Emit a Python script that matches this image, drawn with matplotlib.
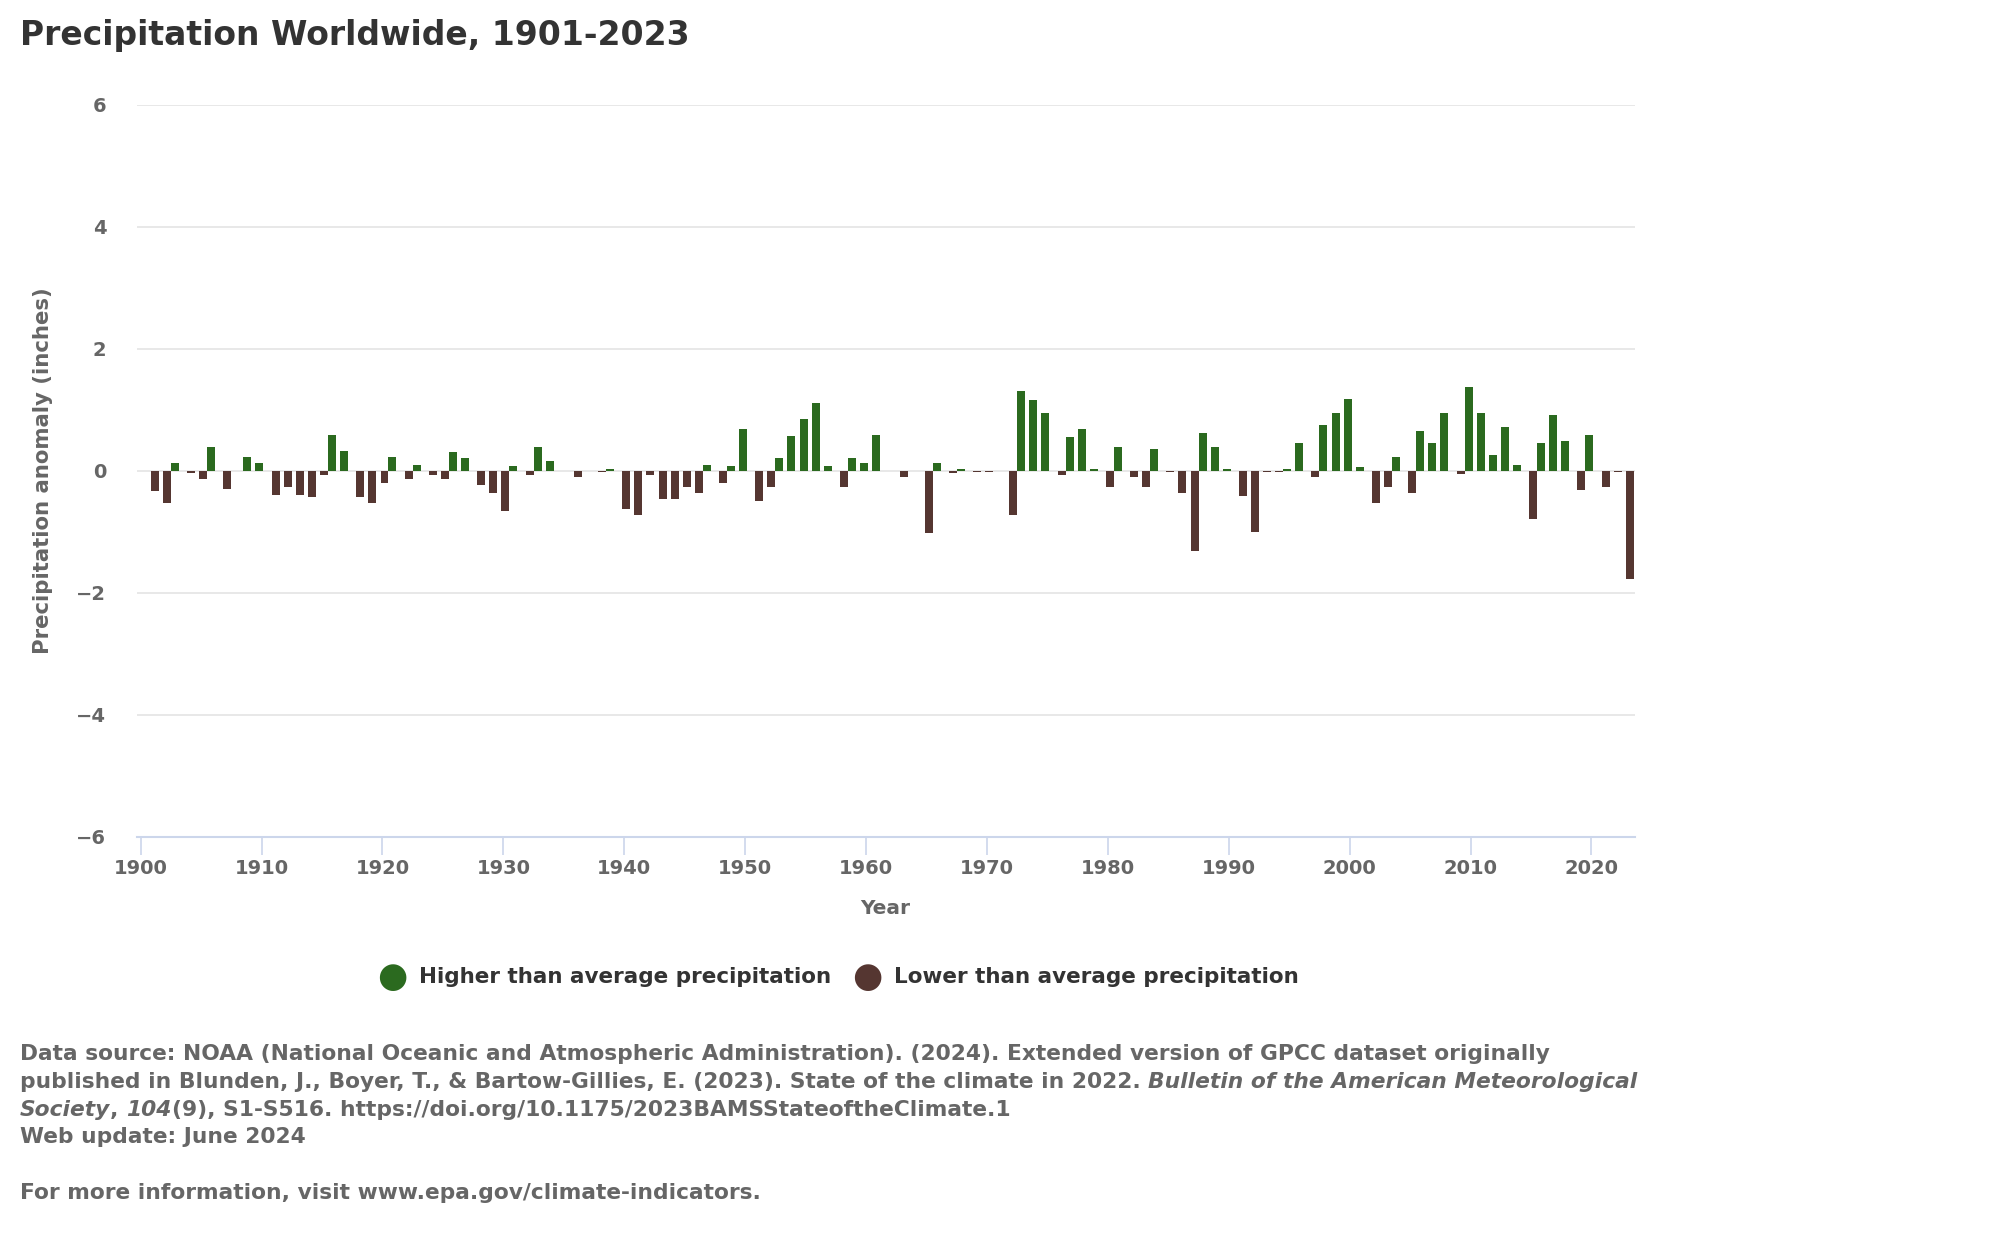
import matplotlib.pyplot as plt
import numpy as np

plt.rcParams['font.family'] = ['DejaVu Sans']

# annual precipitation anomaly (inches)
years = list(range(1901, 2024))
anomaly = [
    -0.33, -0.53, 0.13, -0.04, -0.14, 0.39, -0.30, 0.00, 0.23, 0.13,   # 1901-1910
    -0.40, -0.27, -0.40, -0.43, -0.07, 0.59, 0.33, -0.43, -0.53, -0.20,  # 1911-1920
    0.23, -0.13, 0.10, -0.07, -0.13, 0.30, 0.20, -0.23, -0.36, -0.66,   # 1921-1930
    0.07, -0.07, 0.39, 0.16, 0.00, -0.10, 0.00, -0.03, 0.03, -0.63,     # 1931-1940
    -0.72, -0.07, -0.46, -0.46, -0.27, -0.36, 0.10, -0.20, 0.07, 0.69,  # 1941-1950
    -0.50, -0.27, 0.20, 0.56, 0.85, 1.11, 0.07, -0.27, 0.20, 0.13,      # 1951-1960
    0.59, 0.00, -0.10, 0.00, -1.02, 0.13, -0.04, 0.03, -0.03, -0.03,    # 1961-1970
    0.00, -0.72, 1.31, 1.15, 0.95, -0.07, 0.55, 0.68, 0.03, -0.26,      # 1971-1980
    0.39, -0.10, -0.26, 0.36, -0.03, -0.36, -1.31, 0.62, 0.39, 0.03,    # 1981-1990
    -0.42, -1.01, -0.03, -0.03, 0.03, 0.45, -0.10, 0.75, 0.95, 1.17,    # 1991-2000
    0.06, -0.53, -0.26, 0.23, -0.36, 0.65, 0.45, 0.95, -0.06, 1.37,     # 2001-2010
    0.95, 0.26, 0.72, 0.10, -0.80, 0.45, 0.92, 0.49, -0.31, 0.58,       # 2011-2020
    -0.26, -0.03, -1.77,                                                # 2021-2023
]
y_ticks = [-6, -4, -2, 0, 2, 4, 6]
x_ticks = list(range(1900, 2030, 10))

GREEN = '#2b6a1f'
BROWN = '#553631'
TXT = '#666666'
DARK = '#333333'

fig = plt.figure(figsize=(20, 12.42), dpi=100)
ax = fig.add_axes([0.0685, 0.3263, 0.749, 0.5895])

yrs = np.array(years)
vals = np.array(anomaly)
pos = np.where(vals > 0, vals, 0)
neg = np.where(vals < 0, vals, 0)
# two series, grouped like the original (higher left, lower right)
ax.bar(yrs - 0.17, pos, width=0.66, color=GREEN, linewidth=0, zorder=3)
ax.bar(yrs + 0.17, neg, width=0.66, color=BROWN, linewidth=0, zorder=3)

ax.set_xlim(1899.7, 2023.6)
ax.set_ylim(-6, 6)
ax.set_yticks(y_ticks)
ax.set_yticklabels([str(t).replace('-', '\u2212') for t in y_ticks])
ax.set_xticks(x_ticks)
ax.yaxis.grid(True, color='#e6e6e6', lw=1.3, zorder=0)
ax.set_axisbelow(True)
for s in ['top', 'right', 'left']:
    ax.spines[s].set_visible(False)
ax.spines['bottom'].set_color('#ccd6eb')
ax.spines['bottom'].set_linewidth(1.5)
ax.tick_params(axis='y', length=0, pad=22, labelsize=14, labelcolor=TXT)
ax.tick_params(axis='x', length=13, width=1.2, color='#ccd6eb', pad=3,
               labelsize=14, labelcolor=TXT)
for lab in ax.get_xticklabels() + ax.get_yticklabels():
    lab.set_fontweight('bold')

fig.text(885 / 2000, 1 - 908 / 1242, 'Year', fontsize=14.5, color=TXT,
         fontweight='bold', ha='center', va='center')
ax.text(-0.0625, 0.5, 'Precipitation anomaly (inches)', transform=ax.transAxes,
        rotation=90, fontsize=15.3, color=TXT, fontweight='bold',
        ha='center', va='center')

fig.text(0.01, 0.9713, 'Precipitation Worldwide, 1901-2023', fontsize=23.8,
         color=DARK, fontweight='bold', va='center', ha='left')

# legend
ly = 1 - 977 / 1242
fig.text(392 / 2000, ly, '\u25CF', fontsize=25, color=GREEN, va='center', ha='center')
fig.text(419 / 2000, ly, 'Higher than average precipitation', fontsize=15.5,
         color=DARK, fontweight='bold', va='center')
fig.text(867 / 2000, ly, '\u25CF', fontsize=25, color=BROWN, va='center', ha='center')
fig.text(894 / 2000, ly, 'Lower than average precipitation', fontsize=15.5,
         color=DARK, fontweight='bold', va='center')

# footnote with italic runs
note_lines = [
    [('Data source: NOAA (National Oceanic and Atmospheric Administration). (2024). '
      'Extended version of GPCC dataset originally', 'normal')],
    [('published in Blunden, J., Boyer, T., & Bartow-Gillies, E. (2023). '
      'State of the climate in 2022. ', 'normal'),
     ('Bulletin of the American Meteorological', 'italic')],
    [('Society', 'italic'), (', ', 'normal'), ('104', 'italic'),
     ('(9), S1-S516. https://doi.org/10.1175/2023BAMSStateoftheClimate.1', 'normal')],
    [('Web update: June 2024', 'normal')],
    [],
    [('For more information, visit www.epa.gov/climate-indicators.', 'normal')],
]
fig.canvas.draw()
renderer = fig.canvas.get_renderer()
y0 = 1 - 1054 / 1242
step = 27.8 / 1242
for i, runs in enumerate(note_lines):
    x = 0.01
    y = y0 - i * step
    for txt, style in runs:
        t = fig.text(x, y, txt, fontsize=15.7, color=TXT, fontweight='bold',
                     style=style, va='center', ha='left')
        bb = t.get_window_extent(renderer)
        x += bb.width / fig.bbox.width

fig.savefig('out.png', dpi=100)
